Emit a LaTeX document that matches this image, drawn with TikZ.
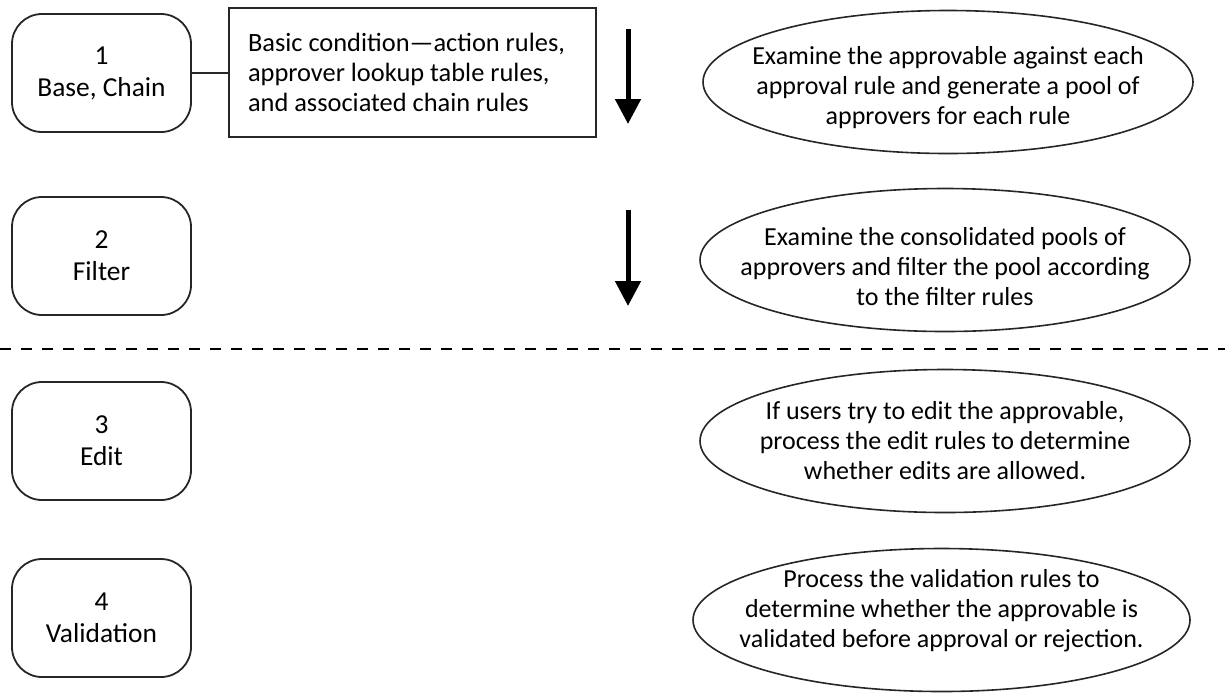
\documentclass[tikz,border=0pt]{standalone}
\usepackage{fontspec}
\setmainfont{Carlito}
\usetikzlibrary{arrows.meta,shapes.geometric,positioning}

\begin{document}
\begin{tikzpicture}[x=0.5pt,y=-0.5pt,
  stage/.style={draw=kLine,line width=0.9pt,rounded corners=15pt,minimum width=89.5pt,minimum height=59pt,inner sep=0pt,align=center,font=\fontsize{13.7}{16}\selectfont},
  rulebox/.style={draw=kLine,line width=0.9pt,minimum height=64.5pt,inner xsep=9.5pt,text width=164.5pt,align=flush left,font=\fontsize{13.2}{15}\selectfont},
  note/.style={ellipse,draw=kLine,line width=0.8pt,minimum width=245pt,minimum height=71.5pt,inner sep=0pt},
  notetext/.style={align=center,inner sep=0pt,font=\fontsize{13}{15}\selectfont},
  flow/.style={line width=2.5pt,-{Triangle[width=12.5pt,length=12.5pt]}},
  link/.style={draw=kLine,line width=0.9pt},
  divider/.style={line width=1.3pt,dash pattern=on 5.5pt off 5pt}]
  % colors
  \definecolor{kLine}{rgb}{0.15,0.15,0.15}
  \useasboundingbox (0,0) rectangle (1225,692);
  % stages
  \node[stage] (base) at (101.5,73) {1\\Base, Chain};
  \node[stage] (filter) at (101.5,256) {2\\Filter};
  \node[stage] (edit) at (101.5,441) {3\\Edit};
  \node[stage] (valid) at (101.5,618) {4\\Validation};
  \node[rulebox] (cond) at (412.5,72.5) {Basic condition—action rules,\\approver lookup table rules,\\and associated chain rules};
  \draw[link] (base.east) -- (base.east -| cond.west);
  % arrows
  \coordinate (a1s) at (628,29);
  \coordinate (a1e) at (628,124);
  \coordinate (a2s) at (628,210);
  \coordinate (a2e) at (628,306);
  \draw[flow] (a1s) -- (a1e);
  \draw[flow] (a2s) -- (a2e);
  % notes
  \node[note,label={[notetext,yshift=-3pt]center:{Examine the approvable against each\\approval rule and generate a pool of\\approvers for each rule}}] (examine) at (948,82) {};
  \node[note,label={[notetext,yshift=-3.5pt]center:{Examine the consolidated pools of\\approvers and filter the pool according\\to the filter rules}}] (consol) at (945,260) {};
  \node[note,label={[notetext]center:{If users try to edit the approvable,\\process the edit rules to determine\\whether edits are allowed.}}] (editnote) at (945,441) {};
  \node[note,minimum width=248.5pt,label={[notetext,yshift=4.5pt]center:{Process the validation rules to\\determine whether the approvable is\\validated before approval or rejection.}}] (validnote) at (941.5,620) {};
  % divider
  \coordinate (sepL) at (0,349);
  \coordinate (sepR) at (1225,349);
  \draw[divider] (sepL) -- (sepR);
\end{tikzpicture}
\end{document}
